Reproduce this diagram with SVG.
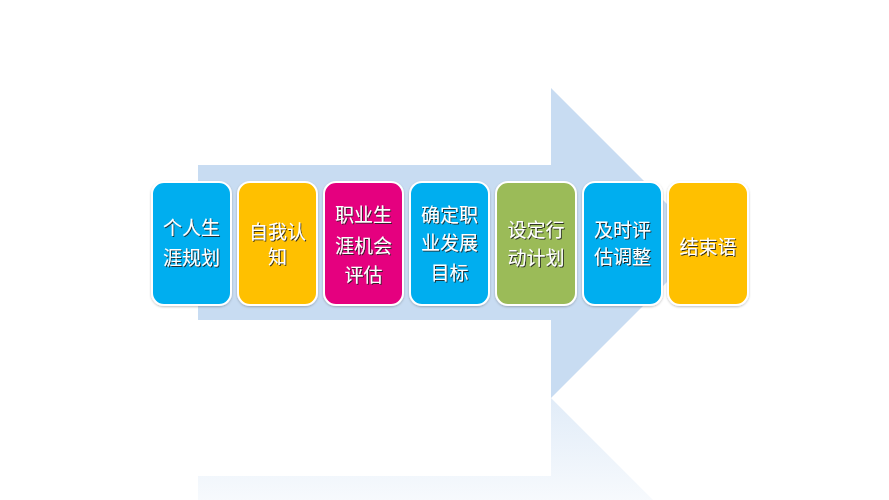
<svg xmlns="http://www.w3.org/2000/svg" width="889" height="500" viewBox="0 0 889 500">
<defs>
<linearGradient id="refl" x1="0" y1="398" x2="0" y2="500" gradientUnits="userSpaceOnUse">
<stop offset="0" stop-color="#C8DCF2" stop-opacity="0.55"/>
<stop offset="1" stop-color="#C8DCF2" stop-opacity="0.15"/>
</linearGradient>
<filter id="ts" x="-10%" y="-10%" width="130%" height="130%">
<feDropShadow dx="1" dy="1" stdDeviation="0.4" flood-color="#222" flood-opacity="0.9"/>
</filter>
<filter id="bs" x="-10%" y="-10%" width="130%" height="130%">
<feDropShadow dx="0" dy="1" stdDeviation="1" flood-color="#000" flood-opacity="0.25"/>
</filter>
</defs>
<style>
.box{stroke:#fff;stroke-width:2;filter:url(#bs)}
.blue{fill:#00AEEF}
.yellow{fill:#FFC000}
.pink{fill:#E5007F}
.green{fill:#9BBB59}
text{font-family:"Noto Sans CJK SC","Noto Sans",sans-serif;font-size:19px;fill:#fff;text-anchor:middle;filter:url(#ts)}
</style>
<rect width="889" height="500" fill="#fff"/>
<g id="arrow">
<polygon points="198,165 551,165 551,88 706,243 551,398 551,320 198,320" fill="#C8DCF2"/>
</g>
<g id="reflection">
<polygon points="198,476 551,476 551,398 706,553 551,708 551,630 198,630" fill="url(#refl)"/>
</g>
<g id="node1">
<rect class="box blue" x="152" y="182" width="79" height="123" rx="12"/>
<text x="191.5" y="235">个人生</text>
<text x="191.5" y="265">涯规划</text>
</g>
<g id="node2">
<rect class="box yellow" x="238" y="182" width="79" height="123" rx="12"/>
<text x="277.5" y="239">自我认</text>
<text x="277.5" y="264">知</text>
</g>
<g id="node3">
<rect class="box pink" x="324" y="182" width="79" height="123" rx="12"/>
<text x="363.5" y="222">职业生</text>
<text x="363.5" y="253">涯机会</text>
<text x="363.5" y="282">评估</text>
</g>
<g id="node4">
<rect class="box blue" x="410" y="182" width="79" height="123" rx="12"/>
<text x="449.5" y="222">确定职</text>
<text x="449.5" y="250">业发展</text>
<text x="449.5" y="280">目标</text>
</g>
<g id="node5">
<rect class="box green" x="496" y="182" width="80" height="123" rx="12"/>
<text x="536" y="237">设定行</text>
<text x="536" y="265">动计划</text>
</g>
<g id="node6">
<rect class="box blue" x="583" y="182" width="79" height="123" rx="12"/>
<text x="622.5" y="237">及时评</text>
<text x="622.5" y="264">估调整</text>
</g>
<g id="node7">
<rect class="box yellow" x="668" y="182" width="80" height="123" rx="12"/>
<text x="708" y="254">结束语</text>
</g>
<g id="connectors"/>
</svg>
